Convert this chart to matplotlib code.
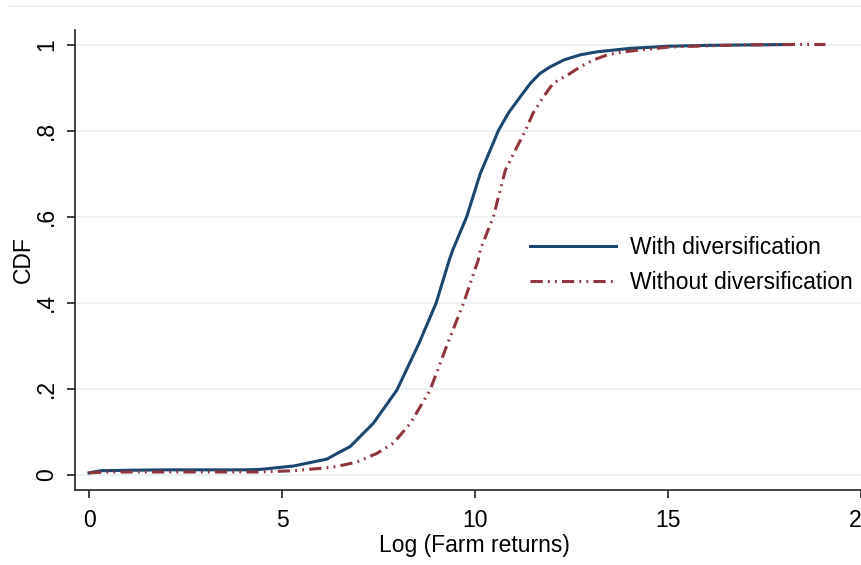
import matplotlib.pyplot as plt
from matplotlib.lines import Line2D

# -----------------------------
# Data
# -----------------------------
with_x = [0, 0.3, 1, 2, 3, 4, 4.43, 5.3, 6.16, 6.42, 6.76, 6.85, 7.36, 7.97, 8.55,
          8.99, 9.33, 9.42, 9.78, 10.13, 10.39, 10.6, 10.86, 11.17, 11.43, 11.68, 11.94,
          12.29, 12.72, 13.15, 14.0, 15, 16, 17, 18.2]
with_y = [0.005, 0.01, 0.011, 0.012, 0.012, 0.012, 0.013, 0.021, 0.037, 0.05, 0.066, 0.074,
          0.12, 0.197, 0.307, 0.4, 0.5, 0.523, 0.6, 0.70, 0.755, 0.8, 0.841, 0.879, 0.91,
          0.933, 0.948, 0.964, 0.976, 0.983, 0.991, 0.996, 0.998, 0.999, 1.0]

without_x = [0, 0.5, 1, 2, 3, 4, 4.43, 5.3, 6.16, 6.42, 6.93, 7.45, 7.88, 8.32, 8.83, 9.22,
             9.7, 10.08, 10.13, 10.47, 10.78, 11.04, 11.3, 11.5, 11.77, 12.02, 12.46, 12.72,
             13.06, 13.42, 13.83, 15, 16, 17, 18, 19.07]
without_y = [0.005, 0.007, 0.007, 0.007, 0.007, 0.007, 0.007, 0.01, 0.017, 0.02, 0.03, 0.05,
             0.074, 0.12, 0.197, 0.29, 0.4, 0.5, 0.523, 0.6, 0.708, 0.755, 0.8, 0.841, 0.879,
             0.91, 0.933, 0.948, 0.964, 0.976, 0.983, 0.994, 0.997, 0.999, 1.0, 1.0]

x_ticks = [0, 5, 10, 15, 20]
y_ticks = [0, 0.2, 0.4, 0.6, 0.8, 1.0]
y_tick_labels = ["0", ".2", ".4", ".6", ".8", "1"]

NAVY = "#1a476f"
MAROON = "#90353b"
GRID = "#eaf2f3"
FS = 16.5

plt.rcParams["font.family"] = ["Liberation Sans", "DejaVu Sans"]

# -----------------------------
# Figure
# -----------------------------
fig = plt.figure(figsize=(8.61, 5.65), dpi=100)
ax = fig.add_axes([75 / 861, 75 / 565, 798 / 861, 460 / 565])

ax.plot(with_x, with_y, color=NAVY, lw=2.2, label="With diversification", zorder=3)
ax.plot(without_x, without_y, color=MAROON, lw=2.2,
        dashes=(4, 1.7, 0.6, 1.7, 0.6, 1.7), label="Without diversification", zorder=4)

ax.set_xlim(-0.363, 20.3)
ax.set_ylim(-0.0348, 1.0337)

ax.set_xticks(x_ticks)
ax.set_xticklabels([str(t) for t in x_ticks])
ax.set_yticks(y_ticks)
ax.set_yticklabels(y_tick_labels, rotation=90, va="center")

ax.grid(axis="y", color=GRID, lw=1.3)
ax.set_axisbelow(True)

for side in ["top", "right"]:
    ax.spines[side].set_visible(False)
for side in ["left", "bottom"]:
    ax.spines[side].set_color("#222222")
    ax.spines[side].set_linewidth(1.2)

ax.tick_params(axis="both", direction="out", length=6, width=1.2, color="#222222",
               labelsize=FS)
ax.tick_params(axis="x", pad=8)
ax.tick_params(axis="y", pad=6)

ax.set_xlabel("Log (Farm returns)", fontsize=FS, labelpad=1)
ax.set_ylabel("CDF", fontsize=FS, labelpad=0)

ax.legend(loc="upper left", bbox_to_anchor=(0.57, 0.552), frameon=False, fontsize=FS,
          handlelength=3.75, handletextpad=0.6, labelspacing=0.53, borderaxespad=0,
          borderpad=0)

# thin border line near the top of the graph region
fig.add_artist(Line2D([8 / 861, 1], [559 / 565, 559 / 565], color=GRID, lw=1.3,
                      transform=fig.transFigure))

fig.savefig("out.png", dpi=100)
